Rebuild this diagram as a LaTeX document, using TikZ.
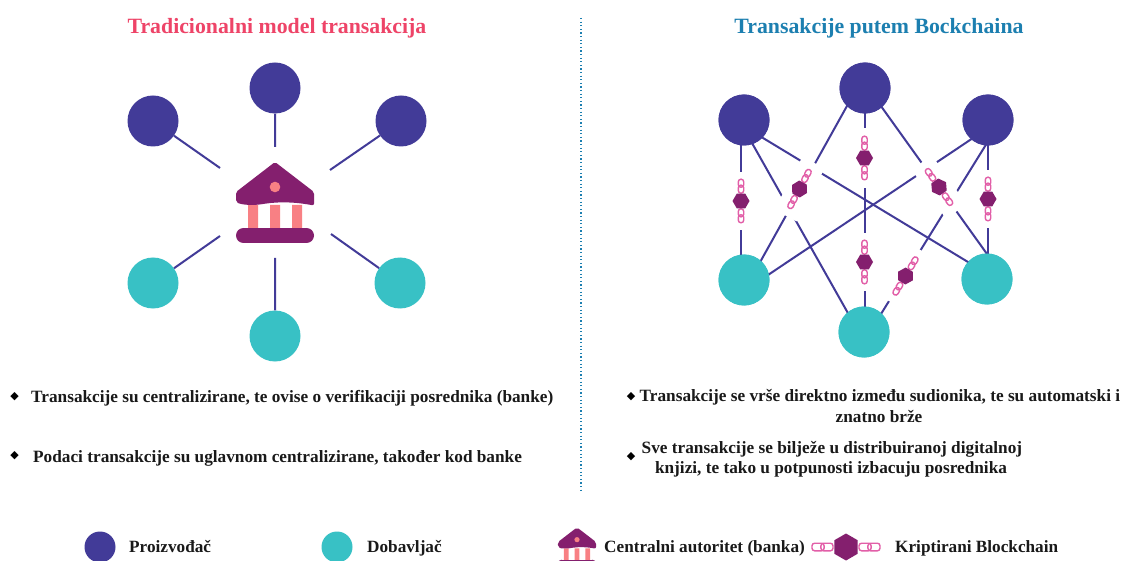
\documentclass[tikz,border=0pt]{standalone}
\usepackage{fontspec}
\setmainfont{Liberation Serif}
\newfontfamily\symfont{DejaVu Sans}
\usetikzlibrary{shapes.geometric}
\definecolor{navy}{HTML}{423B98}
\definecolor{teal2}{HTML}{38C1C5}
\definecolor{plum}{HTML}{841F6E}
\definecolor{salmon}{HTML}{F88084}
\definecolor{linkpink}{HTML}{E25FA8}
\definecolor{titlered}{HTML}{EE4468}
\definecolor{titleblue}{HTML}{1C7FB0}
\tikzset{
  prod/.style={circle,fill=navy,minimum size=#1,inner sep=0pt},
  prod/.default=51pt,
  supp/.style={circle,fill=teal2,minimum size=#1,inner sep=0pt},
  supp/.default=51pt,
  edge/.style={draw=navy,line width=2pt},
  hexa/.style={regular polygon,regular polygon sides=6,fill=plum,inner sep=0pt,minimum size=#1},
  hexa/.default=17pt,
  blank/.style={fill=white,inner sep=0pt},
  loopp/.style={draw=linkpink,line width=1.4pt,rounded corners=2.6pt},
  body/.style={font=\bfseries\fontsize{17.25}{20}\selectfont,inner sep=0pt,text=black!90},
  legend/.style={font=\bfseries\fontsize{17.2}{20}\selectfont,inner sep=0pt,anchor=base west,text=black!90},
  titlet/.style={font=\bfseries\fontsize{21.8}{26}\selectfont,inner sep=0pt,anchor=base},
  bul/.style={font=\symfont\fontsize{11}{12}\selectfont,inner sep=0pt,text=black},
}
% one chain piece, drawn along the local x axis: centre, half length, half height
\newcommand{\linkpiece}[3]{%
  \draw[loopp] (#1-#2,-#3) rectangle (#1+0.15*#2,#3);
  \draw[loopp] (#1-0.15*#2,-#3) rectangle (#1+#2,#3);
}
% blank strip + hexagon + two chain pieces: name, x, y, angle, blank length, blank width
\newcommand{\hexchain}[6]{%
  \node[blank,rotate=#4,minimum width=#5pt,minimum height=#6pt] at (#2,#3) {};
  \begin{scope}[shift={(#2,#3)},rotate=#4]
    \linkpiece{-14.8pt}{7pt}{2.7pt}\linkpiece{14.8pt}{7pt}{2.7pt}
  \end{scope}
  \node[hexa,rotate=#4+90] (#1) at (#2,#3) {};
}
\newcommand{\bankicon}[4]{%
  \begin{scope}[shift={(#2,#3)},scale=#4]
    \coordinate (#1) at (0,0);
    \fill[salmon] (-27,3) rectangle (-17,27) (-5,3) rectangle (5,27) (17,3) rectangle (27,27);
    \fill[plum,rounded corners=2pt] (0,-40) -- (39,-10) -- (39,3.5)
      .. controls (20,0) and (5,-0.5) .. (-12,2) .. controls (-22,3.5) and (-33,3) .. (-39,0) -- (-39,-10) -- cycle;
    \fill[plum] (-31.5,26) rectangle (31.5,41);
    \fill[plum] (-31.5,33.5) circle (7.5) (31.5,33.5) circle (7.5);
    \fill[salmon] (0,-15) circle (5.3);
  \end{scope}
}
\begin{document}
\begin{tikzpicture}[x=1pt,y=-1pt]
\useasboundingbox (0,0) rectangle (1121,561);
\fill[white] (0,0) rectangle (1121,561);
% titles and divider
\node[titlet,text=titlered] (t1) at (277,33.3) {Tradicionalni model transakcija};
\node[titlet,text=titleblue] (t2) at (879,33.3) {Transakcije putem Bockchaina};
\coordinate (d1) at (581,18); \coordinate (d2) at (581,491);
\draw[titleblue,line width=1.2pt,dash pattern=on 1.2pt off 2.4pt] (d1) -- (d2);
% left diagram
\node[prod] (a1) at (153,121) {};
\node[prod] (a2) at (275,88) {};
\node[prod] (a3) at (401,121) {};
\node[supp] (a4) at (153,283) {};
\node[supp] (a5) at (400,283) {};
\node[supp] (a6) at (275,336) {};
\bankicon{bank}{275}{202}{1}
\coordinate (g1) at (220,168); \coordinate (g2) at (275,147); \coordinate (g3) at (330,170);
\coordinate (g4) at (220,236); \coordinate (g5) at (331,234); \coordinate (g6) at (275,258);
\path[edge] (a1) -- (g1) (a2) -- (g2) (a3) -- (g3) (a4) -- (g4) (a5) -- (g5) (a6) -- (g6);
% right diagram
\node[prod] (p1) at (744,120) {};
\node[prod] (p2) at (865,88) {};
\node[prod] (p3) at (988,120) {};
\node[supp] (s1) at (744,280) {};
\node[supp] (s2) at (987,279) {};
\node[supp] (s3) at (864,332) {};
\coordinate (h1) at (741,120); \coordinate (h2) at (741,280);
\coordinate (h3) at (988,120); \coordinate (h4) at (988,280);
\coordinate (k1) at (739,120); \coordinate (k2) at (866.5,346);
\coordinate (k3) at (744,126.5); \coordinate (k4) at (987,273.5);
\coordinate (k5) at (857,88); \coordinate (k6) at (744,291);
\coordinate (k7) at (988,128); \coordinate (k8) at (987,143);
\coordinate (k9) at (863,343); \coordinate (k10) at (868,88); \coordinate (k11) at (987,254);
\coordinate (k12) at (864.6,88); \coordinate (k13) at (864.6,332);
\path[edge] (h1) -- (h2) (h3) -- (h4) (k12) -- (k13);
\path[edge] (k1) -- (k2);
\path[edge] (k3) -- (k4);
\path[edge] (k5) -- (k6);
\path[edge] (k10) -- (k11);
\path[edge] (k7) -- (k6);
\path[edge] (k8) -- (k9);
\hexchain{c1}{741}{201}{90}{58}{22}
\hexchain{c2}{864.5}{158}{90}{60}{22}
\hexchain{c3}{864.5}{262}{90}{58}{22}
\hexchain{c4}{988}{199}{90}{58}{22}
\hexchain{c5}{799.5}{189}{62}{60}{25}
\hexchain{c6}{939}{187}{-55}{60}{25}
\hexchain{c7}{905.5}{276}{59}{60}{22}
\foreach \n in {p1,p2,p3}{\fill[navy] (\n) circle (25.5);}
\foreach \n in {s1,s2,s3}{\fill[teal2] (\n) circle (25.5);}
% bullet texts
\node[bul] (b1) at (14.5,397) {◆};
\node[body,anchor=base west] (x1) at (31,402.7) {Transakcije su centralizirane, te ovise o verifikaciji posrednika (banke)};
\node[bul] (b2) at (14.5,456) {◆};
\node[body,anchor=base west] (x2) at (33,462.7) {Podaci transakcije su uglavnom centralizirane, također kod banke};
\node[bul] (b3) at (631,397) {◆};
\node[body,anchor=base west] (x3) at (639.5,401.7) {Transakcije se vrše direktno između sudionika, te su automatski i};
\node[body,anchor=base] (x4) at (879,422.7) {znatno brže};
\node[bul] (b4) at (631,457) {◆};
\node[body,anchor=base west] (x5) at (641.5,453.3) {Sve transakcije se bilježe u distribuiranoj digitalnoj};
\node[body,anchor=base] (x6) at (831,473.3) {knjizi, te tako u potpunosti izbacuju posrednika};
% legend
\node[prod=31pt] (l1) at (100,547) {};
\node[legend] (lt1) at (129,552) {Proizvođač};
\node[supp=31pt] (l2) at (337,547) {};
\node[legend] (lt2) at (367,552) {Dobavljač};
\bankicon{lbank}{577}{547}{0.49}
\node[legend] (lt3) at (604,552) {Centralni autoritet (banka)};
\begin{scope}[shift={(846,547)}]
  \linkpiece{-23.5pt}{10.5pt}{3.8pt}\linkpiece{23.5pt}{10.5pt}{3.8pt}
\end{scope}
\node[hexa=27pt,rotate=90] (lh) at (846,547) {};
\node[legend] (lt4) at (895,552) {Kriptirani Blockchain};
\end{tikzpicture}
\end{document}
